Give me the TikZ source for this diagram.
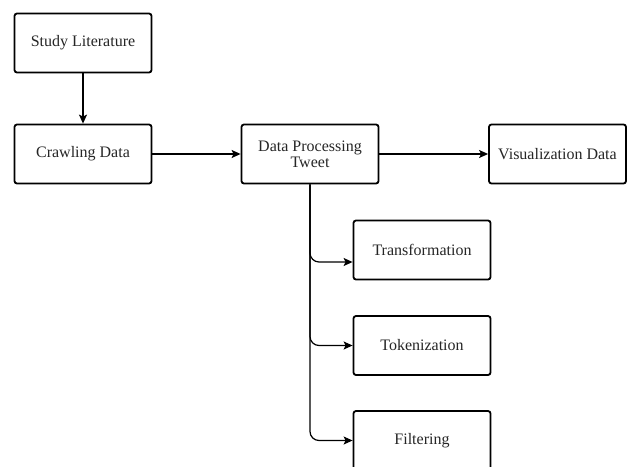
\documentclass[tikz,border=0pt]{standalone}
\usepackage{fontspec}
\setmainfont{Liberation Serif}
\usetikzlibrary{arrows.meta,calc}
\begin{document}
\begin{tikzpicture}[x=1pt,y=-1pt,
  box/.style={draw=black,line width=1.8pt,rounded corners=2.5pt,fill=white,
    minimum width=137pt,minimum height=59pt,inner sep=2pt,align=center,
    font=\fontsize{16}{17}\selectfont,text=black!85},
  link/.style={draw=black,line width=1.2pt,-{Stealth[length=9pt,width=8pt,inset=2pt]}},
  branch/.style={link,rounded corners=9pt}]
\clip (0,0) rectangle (631,466);
\fill[white] (0,0) rectangle (631,466);

\node[box] (lit)   at (83,43)    {Study Literature};
\node[box] (crawl) at (83,154)   {Crawling Data};
\node[box] (proc)  at (310,154)  {Data Processing\\[-1pt]Tweet};
\node[box] (vis)   at (557.5,154){Visualization Data};
\node[box] (trans) at (422,250)  {Transformation};
\node[box] (tok)   at (422,345.5){Tokenization};
\node[box] (filt)  at (422,440.5){Filtering};

\coordinate (transin) at ($(trans.west)+(0,12)$);

\draw[link] (lit) -- (crawl);
\draw[link] (crawl) -- (proc);
\draw[link] (proc) -- (vis);
\draw[branch] (proc.south) |- (transin);
\draw[branch] (proc.south) |- (tok.west);
\draw[branch] (proc.south) |- (filt.west);
\end{tikzpicture}
\end{document}
